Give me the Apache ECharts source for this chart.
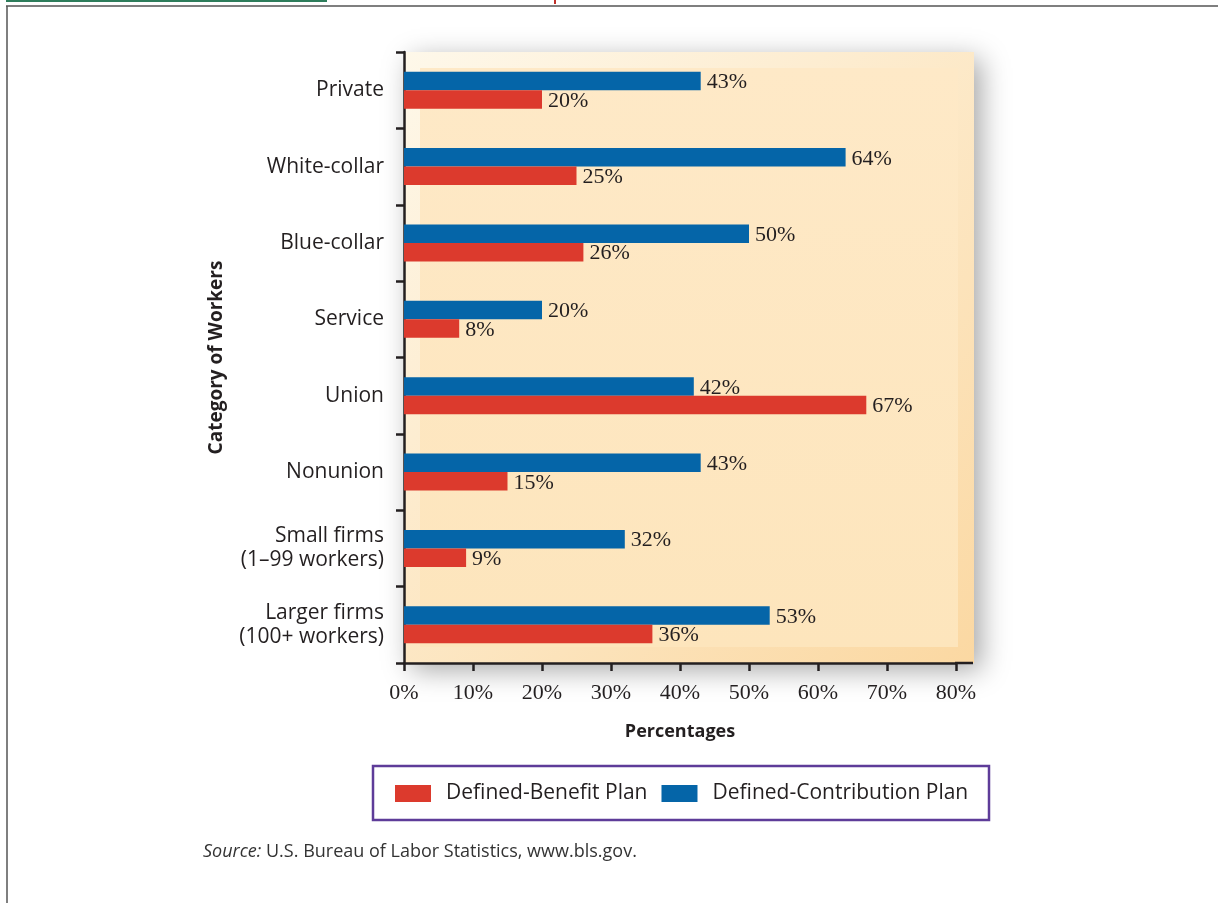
<!DOCTYPE html>
<html><head><meta charset="utf-8">
<script src="https://cdn.jsdelivr.net/npm/echarts@6/dist/echarts.min.js"></script>
<style>html,body{margin:0;padding:0;background:#fff}#c{width:1218px;height:903px}</style>
</head><body><div id="c"></div>
<script>
const categories = ['Private', 'White-collar', 'Blue-collar', 'Service', 'Union', 'Nonunion', 'Small firms\n(1–99 workers)', 'Larger firms\n(100+ workers)'];
const definedContribution = [43, 64, 50, 20, 42, 43, 32, 53];
const definedBenefit = [20, 25, 26, 8, 67, 15, 9, 36];
const seriesNames = ['Defined-Benefit Plan', 'Defined-Contribution Plan'];
const xMin = 0, xMax = 80, xStep = 10;

const chart = echarts.init(document.getElementById('c'));
const ink = '#231f20';
const sans = "'Open Sans', sans-serif";
const serif = "'Liberation Serif', serif";
const labelStyle = {show: true, position: 'right', distance: 6, offset: [0, 1.5], formatter: '{c}%', fontFamily: serif, fontSize: 22, color: ink};

chart.setOption({
  animation: false,
  backgroundColor: '#ffffff',
  grid: {left: 404, right: 262, top: 52, bottom: 240, containLabel: false},
  xAxis: {
    type: 'value', min: xMin, max: xMax, interval: xStep,
    name: 'Percentages', nameLocation: 'middle', nameGap: 60,
    nameTextStyle: {fontFamily: sans, fontWeight: 'bold', fontSize: 18, color: ink},
    axisLine: {show: true, lineStyle: {color: ink, width: 2.5}},
    axisTick: {show: true, length: 8, lineStyle: {color: ink, width: 2.5}},
    axisLabel: {formatter: '{value}%', margin: 19, fontFamily: serif, fontSize: 22, color: ink},
    splitLine: {show: false}
  },
  yAxis: {
    type: 'category', data: categories, inverse: true,
    name: 'Category of Workers', nameLocation: 'middle', nameGap: 178, nameRotate: 90,
    nameTextStyle: {fontFamily: sans, fontWeight: 'bold', fontSize: 19, color: ink},
    axisLine: {show: true, lineStyle: {color: ink, width: 2.5}},
    axisTick: {show: true, length: 8, lineStyle: {color: ink, width: 2.5}},
    axisLabel: {margin: 20, fontFamily: sans, fontSize: 21, lineHeight: 24, color: ink, align: 'right'}
  },
  legend: {
    data: seriesNames, left: 390, top: 778, icon: 'rect', itemWidth: 36, itemHeight: 17, itemGap: 14,
    textStyle: {fontFamily: sans, fontSize: 21, color: ink, padding: [0, 0, 0, 10]}
  },
  series: [
    {name: seriesNames[1], type: 'bar', data: definedContribution, barWidth: 18.5, barGap: '0%',
     itemStyle: {color: '#0565a8'}, label: labelStyle},
    {name: seriesNames[0], type: 'bar', data: definedBenefit, barWidth: 18.5, barGap: '0%',
     itemStyle: {color: '#dc3a2d'}, label: labelStyle}
  ],
  graphic: [
    {type: 'rect', z: -20, shape: {x: 404, y: 52, width: 570, height: 611},
     style: {fill: new echarts.graphic.LinearGradient(0, 0, 1, 1, [{offset: 0, color: '#fef8ea'}, {offset: 1, color: '#fbd8a2'}]),
             shadowBlur: 26, shadowOffsetX: 7, shadowOffsetY: 7, shadowColor: 'rgba(0,0,0,0.35)'}},
    {type: 'rect', z: -19, shape: {x: 420, y: 68, width: 538, height: 579},
     style: {fill: new echarts.graphic.LinearGradient(0, 0, 0, 1, [{offset: 0, color: '#fee9c7'}, {offset: 1, color: '#fde5bc'}])}},
    {type: 'line', z: 5, shape: {x1: 955, y1: 663, x2: 973, y2: 663}, style: {stroke: ink, lineWidth: 2.5}},
    {type: 'rect', shape: {x: 373, y: 766, width: 616, height: 54}, style: {fill: 'none', stroke: '#5e3c99', lineWidth: 2.5}},
    {type: 'text', x: 203, y: 843, style: {text: '{i|Source:} U.S. Bureau of Labor Statistics, www.bls.gov.',
      font: "18px 'Open Sans'", fill: '#333333',
      rich: {i: {fontStyle: 'italic', fontFamily: 'Open Sans', fontSize: 18, fill: '#333333'}}}},
    {type: 'line', shape: {x1: 6, y1: 6, x2: 1218, y2: 6}, style: {stroke: '#555', lineWidth: 1.5}},
    {type: 'line', shape: {x1: 7, y1: 6, x2: 7, y2: 903}, style: {stroke: '#555', lineWidth: 1.5}},
    {type: 'rect', shape: {x: 6, y: 0, width: 321, height: 2}, style: {fill: '#2e7d5b'}},
    {type: 'rect', shape: {x: 554, y: 0, width: 2, height: 4}, style: {fill: '#c0302a'}}
  ]
});
</script></body></html>
